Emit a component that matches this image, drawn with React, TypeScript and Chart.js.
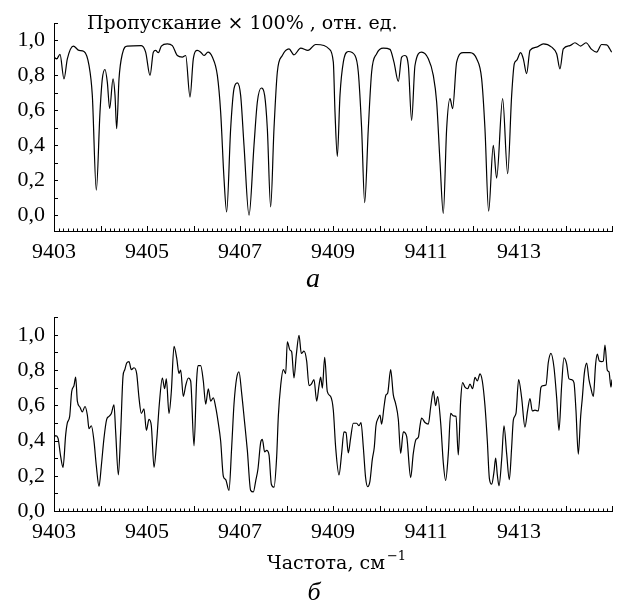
import React, { useEffect, useRef } from "react";
import { Chart, registerables } from "chart.js";

Chart.register(...registerables);

// ---------- data ----------
const TOP_FREQ = [
  9403.0, 9403.057, 9403.129, 9403.215, 9403.287, 9403.416, 9403.538, 9403.645, 9403.753, 9403.824,
  9403.91, 9403.989, 9404.039, 9404.097, 9404.147, 9404.197, 9404.269, 9404.312, 9404.348, 9404.398,
  9404.47, 9404.577, 9404.878, 9404.971, 9405.065, 9405.136, 9405.186, 9405.244, 9405.308, 9405.437,
  9405.545, 9405.652, 9405.76, 9405.832, 9405.925, 9405.996, 9406.082, 9406.154, 9406.226, 9406.312,
  9406.405, 9406.513, 9406.584, 9406.656, 9406.713, 9406.799, 9406.871, 9406.943, 9407.014, 9407.086,
  9407.194, 9407.301, 9407.373, 9407.459, 9407.53, 9407.588, 9407.659, 9407.731, 9407.803, 9407.91,
  9408.054, 9408.161, 9408.305, 9408.462, 9408.627, 9408.806, 9408.914, 9409.007, 9409.043, 9409.093,
  9409.15, 9409.222, 9409.329, 9409.473, 9409.544, 9409.616, 9409.681, 9409.759, 9409.831, 9409.939,
  9410.082, 9410.225, 9410.311, 9410.405, 9410.476, 9410.548, 9410.62, 9410.691, 9410.763, 9410.906,
  9411.05, 9411.157, 9411.229, 9411.301, 9411.372, 9411.444, 9411.516, 9411.573, 9411.659, 9411.802,
  9411.946, 9412.089, 9412.197, 9412.268, 9412.347, 9412.447, 9412.519, 9412.648, 9412.756, 9412.842,
  9412.899, 9412.949, 9413.035, 9413.093, 9413.164, 9413.236, 9413.379, 9413.523, 9413.702, 9413.81,
  9413.881, 9413.953, 9414.096, 9414.204, 9414.326, 9414.44, 9414.562, 9414.67, 9414.777, 9414.885, 9414.992,
];
const TOP_TRANS = [
  0.905, 0.895, 0.92, 0.78, 0.895, 0.968, 0.943, 0.937, 0.857, 0.686,
  0.143, 0.59, 0.78, 0.834, 0.76, 0.61, 0.78, 0.686, 0.495, 0.78,
  0.924, 0.968, 0.971, 0.933, 0.8, 0.933, 0.943, 0.93, 0.968, 0.981,
  0.971, 0.914, 0.905, 0.914, 0.676, 0.895, 0.943, 0.933, 0.914, 0.933,
  0.905, 0.8, 0.59, 0.21, 0.019, 0.495, 0.724, 0.758, 0.686, 0.4,
  0.0, 0.4, 0.648, 0.728, 0.686, 0.495, 0.048, 0.495, 0.82, 0.914,
  0.952, 0.918, 0.956, 0.943, 0.977, 0.971, 0.952, 0.876, 0.59, 0.337,
  0.686, 0.876, 0.937, 0.914, 0.82, 0.495, 0.072, 0.495, 0.82, 0.924,
  0.956, 0.949, 0.876, 0.766, 0.905, 0.914, 0.857, 0.543, 0.857, 0.933,
  0.895, 0.8, 0.648, 0.305, 0.01, 0.495, 0.667, 0.61, 0.876, 0.93,
  0.93, 0.895, 0.78, 0.495, 0.023, 0.4, 0.213, 0.667, 0.238, 0.686,
  0.867, 0.886, 0.93, 0.895, 0.81, 0.943, 0.962, 0.981, 0.962, 0.924,
  0.838, 0.952, 0.971, 0.987, 0.968, 0.987, 0.949, 0.933, 0.977, 0.975, 0.933,
];

const BOTTOM_FREQ = [
  9403.0, 9403.036, 9403.086, 9403.143, 9403.194, 9403.251, 9403.287, 9403.337, 9403.38, 9403.43,
  9403.466, 9403.502, 9403.559, 9403.609, 9403.667, 9403.717, 9403.753, 9403.803, 9403.86, 9403.91,
  9403.968, 9404.018, 9404.075, 9404.133, 9404.183, 9404.233, 9404.29, 9404.326, 9404.384, 9404.434,
  9404.484, 9404.52, 9404.563, 9404.613, 9404.663, 9404.72, 9404.778, 9404.828, 9404.878, 9404.935,
  9404.986, 9405.043, 9405.093, 9405.151, 9405.208, 9405.265, 9405.33, 9405.38, 9405.416, 9405.473,
  9405.523, 9405.581, 9405.638, 9405.688, 9405.724, 9405.781, 9405.832, 9405.889, 9405.939, 9406.011,
  9406.068, 9406.097, 9406.154, 9406.211, 9406.262, 9406.319, 9406.369, 9406.427, 9406.477, 9406.527,
  9406.584, 9406.642, 9406.692, 9406.763, 9406.821, 9406.871, 9406.928, 9406.978, 9407.036, 9407.1,
  9407.158, 9407.229, 9407.287, 9407.337, 9407.387, 9407.444, 9407.48, 9407.53, 9407.573, 9407.624,
  9407.674, 9407.731, 9407.789, 9407.824, 9407.875, 9407.932, 9407.982, 9408.018, 9408.075, 9408.111,
  9408.161, 9408.211, 9408.269, 9408.319, 9408.376, 9408.434, 9408.484, 9408.534, 9408.591, 9408.649,
  9408.699, 9408.735, 9408.771, 9408.821, 9408.878, 9408.95, 9409.007, 9409.057, 9409.129, 9409.186,
  9409.236, 9409.279, 9409.329, 9409.379, 9409.437, 9409.508, 9409.559, 9409.602, 9409.652, 9409.702,
  9409.745, 9409.795, 9409.845, 9409.888, 9409.924, 9409.974, 9410.01, 9410.046, 9410.096, 9410.139,
  9410.175, 9410.24, 9410.297, 9410.347, 9410.405, 9410.455, 9410.512, 9410.584, 9410.67, 9410.727,
  9410.784, 9410.835, 9410.871, 9410.906, 9410.978, 9411.05, 9411.1, 9411.157, 9411.207, 9411.25,
  9411.315, 9411.372, 9411.422, 9411.48, 9411.53, 9411.587, 9411.645, 9411.695, 9411.745, 9411.788,
  9411.838, 9411.896, 9411.946, 9412.003, 9412.053, 9412.104, 9412.161, 9412.211, 9412.268, 9412.319,
  9412.362, 9412.412, 9412.462, 9412.498, 9412.534, 9412.57, 9412.627, 9412.677, 9412.734, 9412.792,
  9412.842, 9412.878, 9412.935, 9412.992, 9413.057, 9413.128, 9413.186, 9413.236, 9413.286, 9413.344,
  9413.415, 9413.473, 9413.523, 9413.58, 9413.63, 9413.688, 9413.752, 9413.81, 9413.86, 9413.917,
  9413.967, 9414.025, 9414.075, 9414.132, 9414.182, 9414.225, 9414.275, 9414.326, 9414.362, 9414.405,
  9414.455, 9414.505, 9414.541, 9414.598, 9414.648, 9414.684, 9414.727, 9414.777, 9414.813, 9414.849,
  9414.899, 9414.935, 9414.978, 9415.0,
];
const BOTTOM_TRANS = [
  0.414, 0.428, 0.414, 0.31, 0.248, 0.432, 0.5, 0.537, 0.677, 0.712,
  0.76, 0.624, 0.589, 0.563, 0.593, 0.545, 0.467, 0.484, 0.397, 0.257,
  0.14, 0.257, 0.414, 0.52, 0.537, 0.554, 0.603, 0.449, 0.205, 0.449,
  0.764, 0.8, 0.84, 0.848, 0.802, 0.813, 0.78, 0.642, 0.554, 0.58,
  0.458, 0.52, 0.484, 0.248, 0.397, 0.607, 0.755, 0.694, 0.75, 0.554,
  0.677, 0.935, 0.869, 0.781, 0.8, 0.65, 0.712, 0.755, 0.738, 0.37,
  0.746, 0.825, 0.825, 0.738, 0.607, 0.694, 0.624, 0.642, 0.589, 0.51,
  0.397, 0.196, 0.178, 0.117, 0.362, 0.607, 0.755, 0.79, 0.668, 0.5,
  0.344, 0.117, 0.108, 0.17, 0.24, 0.388, 0.406, 0.336, 0.344, 0.318,
  0.152, 0.135, 0.31, 0.537, 0.712, 0.802, 0.78, 0.96, 0.913, 0.904,
  0.755, 0.886, 0.997, 0.895, 0.907, 0.851, 0.712, 0.72, 0.746, 0.624,
  0.712, 0.76, 0.698, 0.872, 0.677, 0.65, 0.572, 0.362, 0.205, 0.327,
  0.449, 0.446, 0.33, 0.414, 0.498, 0.498, 0.484, 0.502, 0.362, 0.187,
  0.138, 0.17, 0.292, 0.362, 0.484, 0.528, 0.545, 0.493, 0.589, 0.659,
  0.668, 0.802, 0.659, 0.61, 0.519, 0.327, 0.449, 0.423, 0.19, 0.327,
  0.406, 0.418, 0.484, 0.528, 0.502, 0.493, 0.589, 0.68, 0.598, 0.65,
  0.502, 0.274, 0.173, 0.327, 0.554, 0.54, 0.537, 0.318, 0.624, 0.729,
  0.703, 0.694, 0.72, 0.694, 0.759, 0.738, 0.778, 0.738, 0.598, 0.397,
  0.187, 0.152, 0.222, 0.3, 0.205, 0.143, 0.292, 0.484, 0.327, 0.178,
  0.362, 0.516, 0.554, 0.746, 0.642, 0.476, 0.572, 0.638, 0.568, 0.572,
  0.568, 0.703, 0.712, 0.715, 0.843, 0.895, 0.816, 0.642, 0.458, 0.712,
  0.869, 0.834, 0.75, 0.746, 0.729, 0.572, 0.323, 0.537, 0.642, 0.781,
  0.839, 0.746, 0.703, 0.65, 0.834, 0.89, 0.851, 0.848, 0.851, 0.942,
  0.799, 0.79, 0.703, 0.746,
];

const X_MIN = 9403;
const X_MAX = 9415;
const X_TICK_LABELS = [9403, 9405, 9407, 9409, 9411, 9413];
const Y_TICK_LABELS = [0, 0.2, 0.4, 0.6, 0.8, 1.0];
const TOP_Y_MIN = -0.09;
const TOP_Y_MAX = 1.1;
const BOTTOM_Y_MIN = 0;
const BOTTOM_Y_MAX = 1.1;

const TOP_TITLE = "Пропускание × 100% , отн. ед.";
const X_TITLE = "Частота, см";
const X_TITLE_SUP = "−1";
const CAPTION_TOP = "а";
const CAPTION_BOTTOM = "б";

// ---------- styling ----------
const SERIF = "'Liberation Serif', 'DejaVu Serif', serif";
const TEXT_SERIF = "'DejaVu Serif', 'Liberation Serif', serif";
const TICK_FONT = { family: SERIF, size: 22 };

const inwardTicks = {
  id: "inwardTicks",
  afterDraw(chart: any) {
    const { ctx, chartArea } = chart;
    const xs = chart.scales.x;
    const ys = chart.scales.y;
    ctx.save();
    ctx.strokeStyle = "#000";
    ctx.lineWidth = 1;
    ctx.beginPath();
    const n = Math.round((xs.max - xs.min) * 10);
    for (let i = 0; i <= n; i++) {
      const v = xs.min + i / 10;
      const px = Math.round(xs.getPixelForValue(v)) + 0.5;
      const len = i % 10 === 0 ? 5 : 2.5;
      ctx.moveTo(px, chartArea.bottom);
      ctx.lineTo(px, chartArea.bottom - len);
    }
    const j0 = Math.ceil(ys.min * 10 - 1e-6);
    const j1 = Math.floor(ys.max * 10 + 1e-6);
    for (let j = j0; j <= j1; j++) {
      const py = Math.round(ys.getPixelForValue(j / 10)) + 0.5;
      ctx.moveTo(chartArea.left, py);
      ctx.lineTo(chartArea.left + 4, py);
    }
    ctx.stroke();
    ctx.restore();
  },
};

type TextItem = {
  text: string;
  x: number;
  y: number;
  font: string;
  align?: CanvasTextAlign;
  sup?: { text: string; font: string; dy: number };
};

function textPlugin(items: TextItem[]) {
  return {
    id: "overlayText",
    afterDraw(chart: any) {
      const ctx = chart.ctx;
      ctx.save();
      ctx.fillStyle = "#000";
      ctx.textBaseline = "alphabetic";
      for (const it of items) {
        ctx.font = it.font;
        ctx.textAlign = it.align || "left";
        ctx.fillText(it.text, it.x, it.y);
        if (it.sup) {
          const w = ctx.measureText(it.text).width;
          ctx.font = it.sup.font;
          ctx.textAlign = "left";
          ctx.fillText(it.sup.text, it.x + w + 2, it.y + it.sup.dy);
        }
      }
      ctx.restore();
    },
  };
}

function yLabel(v: number): string {
  const hit = Y_TICK_LABELS.find((t) => Math.abs(t - v) < 1e-6);
  return hit === undefined ? "" : hit.toFixed(1).replace(".", ",");
}

function xLabel(v: number): string {
  const hit = X_TICK_LABELS.find((t) => Math.abs(t - v) < 1e-6);
  return hit === undefined ? "" : String(hit);
}

function makeConfig(
  freq: number[],
  trans: number[],
  yMin: number,
  yMax: number,
  padTop: number,
  xAxisHeight: number,
  texts: TextItem[]
): any {
  return {
    type: "line",
    data: {
      datasets: [
        {
          data: freq.map((f, i) => ({ x: f, y: trans[i] })),
          borderColor: "#000",
          borderWidth: 1.2,
          pointRadius: 0,
          cubicInterpolationMode: "monotone",
          fill: false,
        },
      ],
    },
    options: {
      responsive: false,
      animation: false,
      devicePixelRatio: 1,
      layout: { padding: { top: padTop, right: 5, left: 0, bottom: 0 } },
      plugins: { legend: { display: false }, tooltip: { enabled: false }, title: { display: false } },
      scales: {
        x: {
          type: "linear",
          min: X_MIN,
          max: X_MAX,
          afterFit: (s: any) => {
            s.height = xAxisHeight;
          },
          afterBuildTicks: (s: any) => {
            s.ticks = X_TICK_LABELS.map((v) => ({ value: v }));
          },
          grid: { display: false, drawTicks: false },
          border: { display: true, color: "#000", width: 1 },
          ticks: {
            autoSkip: false,
            maxRotation: 0,
            padding: 8,
            color: "#000",
            font: TICK_FONT,
            callback: (v: number) => xLabel(v),
          },
        },
        y: {
          type: "linear",
          min: yMin,
          max: yMax,
          afterFit: (s: any) => {
            s.width = 54;
          },
          afterBuildTicks: (s: any) => {
            s.ticks = Y_TICK_LABELS.map((v) => ({ value: v }));
          },
          grid: { display: false, drawTicks: false },
          border: { display: true, color: "#000", width: 1 },
          ticks: {
            autoSkip: false,
            padding: 9,
            color: "#000",
            font: TICK_FONT,
            callback: (v: number) => yLabel(v),
          },
        },
      },
    },
    plugins: [inwardTicks, textPlugin(texts)],
  };
}

function Panel(props: { top: number; height: number; config: any }) {
  const ref = useRef<HTMLCanvasElement | null>(null);
  useEffect(() => {
    if (!ref.current) return;
    const chart = new Chart(ref.current, props.config);
    return () => chart.destroy();
  }, []);
  return (
    <div style={{ position: "absolute", left: 0, top: props.top, width: 617, height: props.height }}>
      <canvas ref={ref} width={617} height={props.height} style={{ display: "block", width: 617, height: props.height }} />
    </div>
  );
}

export default function App() {
  const topCfg = makeConfig(TOP_FREQ, TOP_TRANS, TOP_Y_MIN, TOP_Y_MAX, 23, 64, [
    { text: TOP_TITLE, x: 87, y: 29, font: `19px ${TEXT_SERIF}` },
    { text: CAPTION_TOP, x: 313, y: 287, font: `italic 28px ${SERIF}`, align: "center" },
  ]);
  const bottomCfg = makeConfig(BOTTOM_FREQ, BOTTOM_TRANS, BOTTOM_Y_MIN, BOTTOM_Y_MAX, 8, 95, [
    {
      text: X_TITLE,
      x: 267,
      y: 274,
      font: `19px ${TEXT_SERIF}`,
      sup: { text: X_TITLE_SUP, font: `13px ${TEXT_SERIF}`, dy: -9 },
    },
    { text: CAPTION_BOTTOM, x: 314, y: 305, font: `italic 26px ${SERIF}`, align: "center" },
  ]);
  return (
    <div style={{ position: "absolute", left: 0, top: 0, width: 617, height: 606, background: "#fff" }}>
      <Panel top={0} height={295} config={topCfg} />
      <Panel top={295} height={311} config={bottomCfg} />
    </div>
  );
}
